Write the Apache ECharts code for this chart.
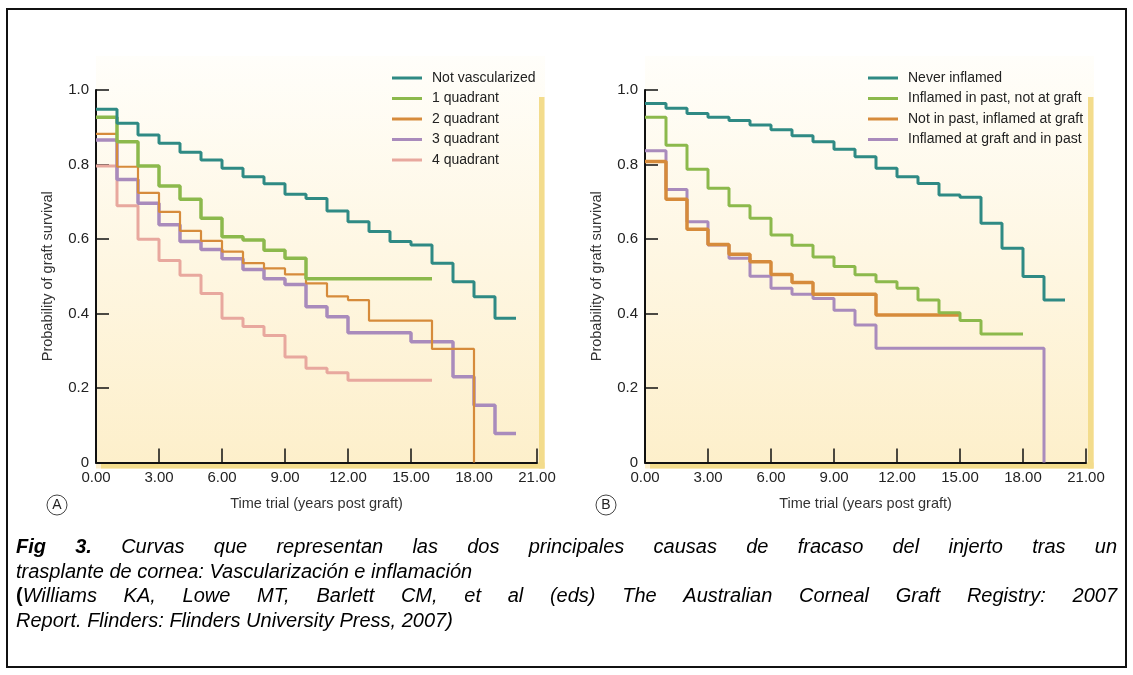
<!DOCTYPE html>
<html><head><meta charset="utf-8">
<script src="https://cdn.jsdelivr.net/npm/echarts@6/dist/echarts.min.js"></script>
<style>html,body{margin:0;padding:0;background:#fff;} #c{width:1133px;height:675px;}</style>
</head><body><div id="c"></div>
<script>
// ---------------- DATA ----------------
const xTickLabels = ['0.00','3.00','6.00','9.00','12.00','15.00','18.00','21.00'];
const yTickLabels = ['0','0.2','0.4','0.6','0.8','1.0'];

// Panel A – vascularization (step starts in years; last point = end of curve)
const namesA = ['Not vascularized','1 quadrant','2 quadrant','3 quadrant','4 quadrant'];
const notVascT = [0,1,2,3,4,5,6,7,8,9,10,11,12,13,14,15,16,17,18,19,20];
const notVascV = [0.948,0.911,0.879,0.857,0.833,0.812,0.790,0.767,0.748,0.720,0.709,0.675,0.646,0.620,0.593,0.584,0.535,0.485,0.445,0.387,0.387];
const quad1T = [0,1,2,3,4,5,6,7,8,9,10,16];
const quad1V = [0.927,0.861,0.796,0.742,0.707,0.656,0.606,0.597,0.570,0.548,0.493,0.493];
const quad2T = [0,1,2,3,4,5,6,7,8,9,10,11,12,13,16,18];
const quad2V = [0.882,0.794,0.724,0.673,0.622,0.595,0.566,0.535,0.521,0.505,0.481,0.446,0.436,0.381,0.305,0];
const quad3T = [0,1,2,3,4,5,6,7,8,9,10,11,12,15,17,18,19,20];
const quad3V = [0.866,0.760,0.696,0.638,0.593,0.572,0.547,0.518,0.493,0.478,0.418,0.391,0.348,0.324,0.230,0.154,0.078,0.078];
const quad4T = [0,1,2,3,4,5,6,7,8,9,10,11,12,16];
const quad4V = [0.796,0.689,0.599,0.542,0.503,0.454,0.387,0.365,0.341,0.283,0.253,0.241,0.221,0.221];

// Panel B – inflammation
const namesB = ['Never inflamed','Inflamed in past, not at graft','Not in past, inflamed at graft','Inflamed at graft and in past'];
const neverT = [0,1,2,3,4,5,6,7,8,9,10,11,12,13,14,15,16,17,18,19,20];
const neverV = [0.964,0.951,0.937,0.927,0.918,0.906,0.893,0.877,0.861,0.841,0.821,0.790,0.767,0.749,0.718,0.712,0.642,0.575,0.499,0.436,0.436];
const pastT = [0,1,2,3,4,5,6,7,8,9,10,11,12,13,14,15,16,18];
const pastV = [0.927,0.852,0.787,0.736,0.689,0.656,0.611,0.583,0.552,0.526,0.504,0.485,0.468,0.436,0.402,0.381,0.345,0.345];
const atGraftT = [0,1,2,3,4,5,6,7,8,11,15];
const atGraftV = [0.808,0.707,0.626,0.585,0.559,0.539,0.505,0.483,0.452,0.396,0.396];
const bothT = [0,1,2,3,4,5,6,7,8,9,10,11,19];
const bothV = [0.837,0.733,0.646,0.584,0.548,0.500,0.468,0.452,0.440,0.409,0.369,0.307,0];

const xTitle = 'Time trial (years post graft)';
const yTitle = 'Probability of graft survival';
const captionLines = [
  {justify:true,  segs:[['Fig 3.','bi'],[' Curvas que representan las dos principales causas de fracaso del injerto tras un','i']]},
  {justify:false, segs:[['trasplante de cornea: Vascularización e inflamación','i']]},
  {justify:true,  segs:[['(','b'],['Williams KA, Lowe MT, Barlett CM, et al (eds) The Australian Corneal Graft Registry: 2007','i']]},
  {justify:false, segs:[['Report. Flinders: Flinders University Press, 2007)','i']]}
];

// ---------------- STYLE / LAYOUT ----------------
const SANS = "'Liberation Sans', Arial, sans-serif";
const C = {teal:'#2f8a84', green:'#8cb94c', orange:'#d68b3b', purple:'#a98bbc', pink:'#e8a89e', band:'#f3dc8c'};
const G = [{left:96, top:90, width:441, height:372.5},{left:645, top:90, width:441, height:372.5}];

const chart = echarts.init(document.getElementById('c'), null, {renderer:'canvas'});

function mk(name, T, V, color, width, idx, z){
  return {name, type:'line', step:'end', xAxisIndex:idx, yAxisIndex:idx, showSymbol:false, symbol:'none',
    data:T.map((t,i)=>[t,V[i]]), color, lineStyle:{color, width}, z:z||2, animation:false, silent:true};
}
function xAx(i){
  return {gridIndex:i, type:'value', min:0, max:21, interval:3,
    name:xTitle, nameLocation:'middle', nameGap:34,
    nameTextStyle:{fontFamily:SANS, fontSize:14.5, color:'#333'},
    axisLine:{lineStyle:{color:'#111', width:2}},
    axisTick:{inside:true, length:14, lineStyle:{color:'#111', width:1.5}},
    axisLabel:{margin:8, fontFamily:SANS, fontSize:15, color:'#222', formatter:(v)=>xTickLabels[Math.round(v/3)]},
    splitLine:{show:false}};
}
function yAx(i){
  return {gridIndex:i, type:'value', min:0, max:1, interval:0.2,
    name:yTitle, nameLocation:'middle', nameGap:41, nameRotate:90,
    nameTextStyle:{fontFamily:SANS, fontSize:14.5, color:'#333'},
    axisLine:{show:true, lineStyle:{color:'#111', width:2}},
    axisTick:{show:true, inside:true, length:13, lineStyle:{color:'#111', width:1.5}},
    axisLabel:{margin:7, fontFamily:SANS, fontSize:15, color:'#222', formatter:(v)=>yTickLabels[Math.round(v*5)]},
    splitLine:{show:false}};
}
function legend(names, left){
  return {data:names, orient:'vertical', left, top:65, icon:'rect', itemWidth:30, itemHeight:3, itemGap:4.5,
    selectedMode:false, textStyle:{fontFamily:SANS, fontSize:14, color:'#222', lineHeight:16, padding:[0,0,0,5]}};
}

// graphics: backgrounds, bands, frame, panel letters
const graphics = [];
G.forEach((g,i)=>{
  graphics.push({type:'rect', z:-10, shape:{x:g.left, y:56, width:g.width+8, height:g.top+g.height-56+6},
    style:{fill:new echarts.graphic.LinearGradient(0,0,0,1,[{offset:0,color:'#fffefa'},{offset:1,color:'#fdefca'}])}});
  graphics.push({type:'rect', z:-5, shape:{x:g.left+5, y:g.top+g.height, width:g.width+2.5, height:6}, style:{fill:C.band}});
  graphics.push({type:'rect', z:-5, shape:{x:g.left+g.width+2, y:g.top+7, width:5.5, height:g.height-1}, style:{fill:C.band}});
  const cx = g.left-39, cy = 505;
  graphics.push({type:'circle', shape:{cx, cy, r:10}, style:{fill:'#fff', stroke:'#444', lineWidth:1}});
  graphics.push({type:'text', x:cx, y:cy+0.5, style:{text:i===0?'A':'B', fontFamily:SANS, fontSize:14, fill:'#222',
    align:'center', verticalAlign:'middle', textAlign:'center', textVerticalAlign:'middle'}});
});
graphics.push({type:'rect', shape:{x:7, y:9, width:1119, height:658}, style:{fill:'none', stroke:'#111', lineWidth:2}});

// caption with justified lines (word positions measured from the font)
const ctx = document.createElement('canvas').getContext('2d');
const CAP_FS = 20, CAP_FAM = "'Liberation Sans', Arial, sans-serif";
function fontFor(s){ return (s.includes('i')?'italic ':'normal ') + (s.includes('b')?'bold ':'normal ') + CAP_FS + "px " + CAP_FAM; }
const capX0 = 16, capX1 = 1117, capY = [547, 572, 596.5, 621];
captionLines.forEach((ln, li)=>{
  const words = [[]];
  ln.segs.forEach(([txt, st])=>{
    txt.split(' ').forEach((p, k)=>{ if(k>0) words.push([]); if(p) words[words.length-1].push({t:p, s:st}); });
  });
  const ws = words.filter(w=>w.length);
  const widths = ws.map(w=>w.reduce((a,p)=>{ctx.font=fontFor(p.s); return a+ctx.measureText(p.t).width;},0));
  ctx.font = fontFor('i');
  const sp = ctx.measureText(' ').width;
  const total = widths.reduce((a,b)=>a+b,0);
  const gap = ln.justify ? (capX1-capX0-total)/(ws.length-1) : sp;
  let x = capX0;
  ws.forEach((w, wi)=>{
    let px = x;
    w.forEach(p=>{
      ctx.font = fontFor(p.s);
      graphics.push({type:'text', x:px, y:capY[li], style:{text:p.t, fontFamily:CAP_FAM, fontSize:CAP_FS,
        fontStyle:p.s.includes('i')?'italic':'normal', fontWeight:p.s.includes('b')?'bold':'normal', fill:'#000',
        align:'left', verticalAlign:'middle', textAlign:'left', textVerticalAlign:'middle'}});
      px += ctx.measureText(p.t).width;
    });
    x += widths[wi] + gap;
  });
});

chart.setOption({
  animation:false,
  backgroundColor:'#fff',
  grid:G.map(g=>Object.assign({containLabel:false}, g)),
  xAxis:[xAx(0), xAx(1)],
  yAxis:[yAx(0), yAx(1)],
  legend:[legend(namesA, 387), legend(namesB, 863)],
  series:[
    mk(namesA[4], quad4T, quad4V, C.pink, 3, 0, 2),
    mk(namesA[3], quad3T, quad3V, C.purple, 3.5, 0, 3),
    mk(namesA[2], quad2T, quad2V, C.orange, 2.2, 0, 4),
    mk(namesA[1], quad1T, quad1V, C.green, 3.5, 0, 5),
    mk(namesA[0], notVascT, notVascV, C.teal, 3, 0, 6),
    mk(namesB[3], bothT, bothV, C.purple, 3, 1, 3),
    mk(namesB[2], atGraftT, atGraftV, C.orange, 3.5, 1, 4),
    mk(namesB[1], pastT, pastV, C.green, 3, 1, 5),
    mk(namesB[0], neverT, neverV, C.teal, 3, 1, 6)
  ],
  graphic:{elements:graphics}
});
</script></body></html>
